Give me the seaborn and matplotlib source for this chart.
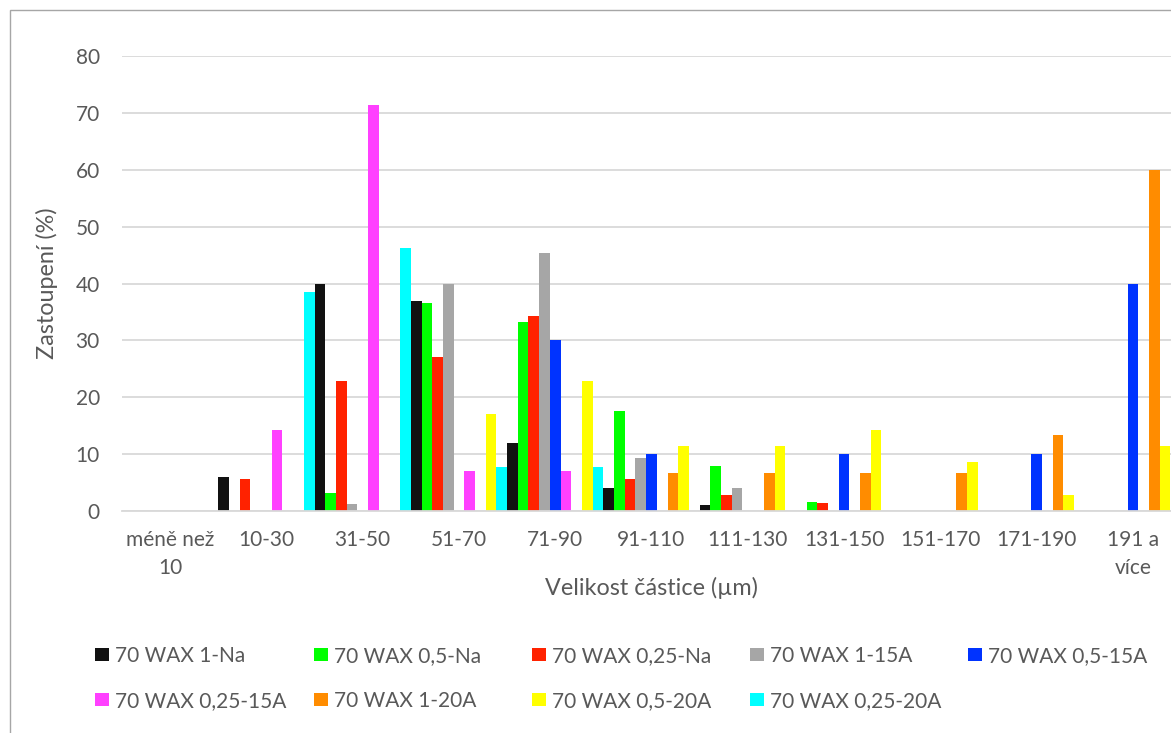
import numpy as np
import pandas as pd
import seaborn as sns
import matplotlib.pyplot as plt
from matplotlib.patches import Patch, Rectangle

# particle size classes
sizes = ['méně než\n10', '10-30', '31-50', '51-70', '71-90', '91-110',
         '111-130', '131-150', '151-170', '171-190', '191 a\nvíce']

# share (%) of each size class per sample
wax_1_na    = [0, 6.0, 40.0, 37.0, 12.0, 4.0, 1.0, 0, 0, 0, 0]
wax_05_na   = [0, 0, 3.2, 36.5, 33.3, 17.5, 7.9, 1.6, 0, 0, 0]
wax_025_na  = [0, 5.7, 22.9, 27.1, 34.3, 5.7, 2.9, 1.4, 0, 0, 0]
wax_1_15a   = [0, 0, 1.3, 40.0, 45.3, 9.3, 4.0, 0, 0, 0, 0]
wax_05_15a  = [0, 0, 0, 0, 30.0, 10.0, 0, 10.0, 0, 10.0, 40.0]
wax_025_15a = [0, 14.3, 71.4, 7.1, 7.1, 0, 0, 0, 0, 0, 0]
wax_1_20a   = [0, 0, 0, 0, 0, 6.7, 6.7, 6.7, 6.7, 13.3, 60.0]
wax_05_20a  = [0, 0, 0, 17.1, 22.9, 11.4, 11.4, 14.3, 8.6, 2.9, 11.4]
wax_025_20a = [0, 38.5, 46.2, 7.7, 7.7, 0, 0, 0, 0, 0, 0]

names = ['70 WAX 1-Na', '70 WAX 0,5-Na', '70 WAX 0,25-Na', '70 WAX 1-15A',
         '70 WAX 0,5-15A', '70 WAX 0,25-15A', '70 WAX 1-20A', '70 WAX 0,5-20A',
         '70 WAX 0,25-20A']
series = [wax_1_na, wax_05_na, wax_025_na, wax_1_15a, wax_05_15a,
          wax_025_15a, wax_1_20a, wax_05_20a, wax_025_20a]
colors = ['#111111', '#00FF00', '#FF2200', '#A6A6A6', '#0033FF',
          '#FF40FF', '#FF8C00', '#FFFF00', '#00FFFF']

rows = []
for name, vals in zip(names, series):
    for s, v in zip(sizes, vals):
        rows.append({'size': s, 'value': v, 'series': name})
df = pd.DataFrame(rows)

sns.set_style('white')
plt.rcParams['font.family'] = ['Lato', 'DejaVu Sans']
txt = '#595959'
fs = 15
fs_title = 16.8

fig = plt.figure(figsize=(11.71, 7.33), dpi=100)
ax = fig.add_axes([122 / 1171, 1 - 511 / 733, 1059 / 1171, 455 / 733])

sns.barplot(data=df, x='size', y='value', hue='series', order=sizes,
            hue_order=names, palette=colors, saturation=1, width=1, gap=0,
            errorbar=None, linewidth=0, legend=False, ax=ax)

ax.set_xlim(-0.5, len(sizes) - 0.5)
ax.set_ylim(0, 80)
ax.set_yticks(range(0, 81, 10))
ax.yaxis.grid(True, color='#D9D9D9', lw=1.3)
ax.set_axisbelow(True)
for sp in ['top', 'right', 'left']:
    ax.spines[sp].set_visible(False)
ax.spines['bottom'].set_color('#D9D9D9')
ax.spines['bottom'].set_linewidth(1.3)
ax.tick_params(axis='both', length=0, labelsize=fs, labelcolor=txt)
ax.tick_params(axis='y', pad=16)
ax.tick_params(axis='x', pad=14)
for lab in ax.get_xticklabels():
    lab.set_linespacing(1.45)

ax.set_xlabel('Velikost částice (µm)', fontsize=fs_title, color=txt)
ax.set_ylabel('Zastoupení (%)', fontsize=fs_title, color=txt)
ax.xaxis.set_label_coords(0.5, -0.169)
ax.xaxis.label.set_va('center')
ax.yaxis.set_label_coords(-0.071, 0.5)
ax.yaxis.label.set_va('center')

# legend laid out like Excel: 5 equal columns, row-major
col_x = [95, 313.7, 531.7, 749.8, 968]
handles = [Patch(facecolor=c, edgecolor='none') for c in colors]
blank = Patch(facecolor='none', edgecolor='none')
for i, x in enumerate(col_x):
    h = [handles[i]]
    l = [names[i]]
    if i + 5 < len(names):
        h.append(handles[i + 5])
        l.append(names[i + 5])
    else:
        h.append(blank)
        l.append(' ')
    fig.legend(h, l, loc='center left',
               bbox_to_anchor=(x / 1171, 1 - 678.5 / 733),
               frameon=False, fontsize=fs, labelcolor=txt, borderpad=0,
               borderaxespad=0, handlelength=0.67, handleheight=0.63,
               handletextpad=0.3, labelspacing=1.2)

# chart border (cropped on the right and bottom)
fig.add_artist(Rectangle((9.5 / 1171, -0.1), 1.2, 1.1 - 10 / 733,
                         transform=fig.transFigure, fill=False,
                         edgecolor='#A6A6A6', lw=1))

fig.savefig('out.png', dpi=100)
